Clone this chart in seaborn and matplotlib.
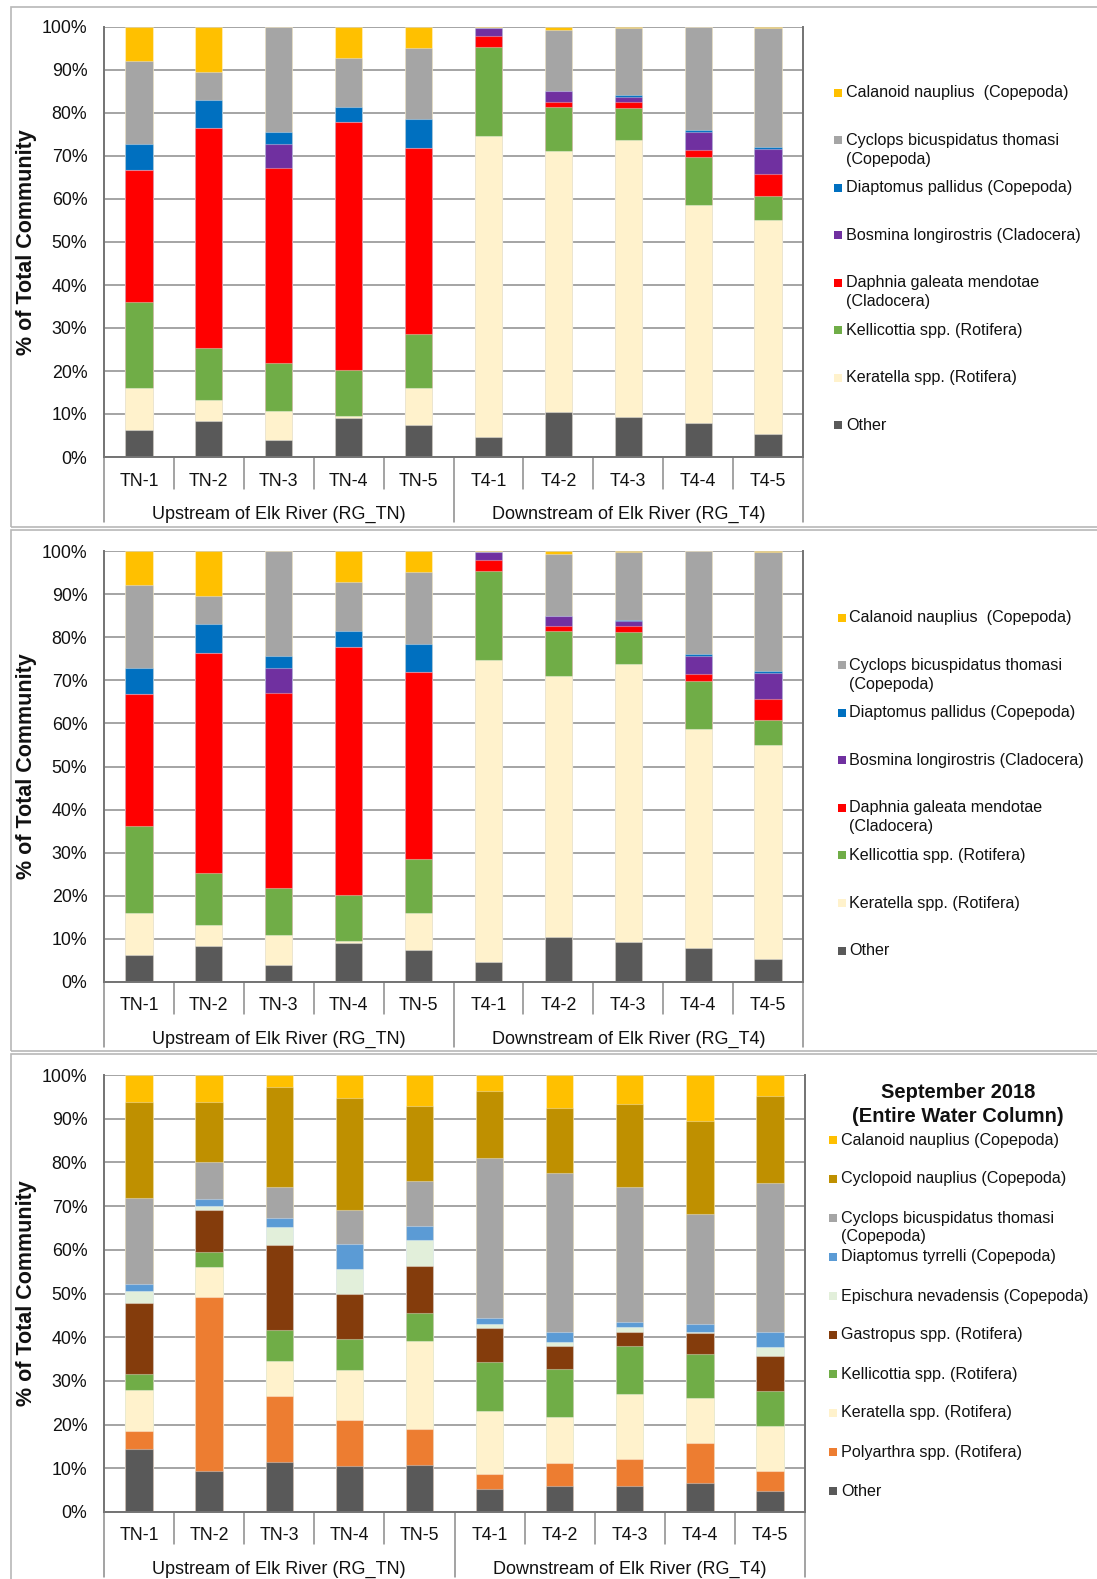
import numpy as np
import matplotlib
matplotlib.use("Agg")
import matplotlib.pyplot as plt
import seaborn as sns
from matplotlib.patches import Rectangle
from matplotlib.lines import Line2D
from matplotlib.transforms import blended_transform_factory

sns.set_style("white")
plt.rcParams["font.family"] = ["Liberation Sans", "DejaVu Sans"]

# ---------------------------------------------------------------- data
sites = ["TN-1", "TN-2", "TN-3", "TN-4", "TN-5",
         "T4-1", "T4-2", "T4-3", "T4-4", "T4-5"]
groups = ["Upstream of Elk River (RG_TN)", "Downstream of Elk River (RG_T4)"]
group_sizes = [5, 5]

# Composition (% of total community), stacked bottom -> top
other_a = [6.2, 8.3, 4.0, 9.0, 7.5, 4.6, 10.4, 9.3, 8.0, 5.4]
keratella_a = [9.8, 5.0, 6.8, 0.6, 8.5, 70.1, 60.7, 64.4, 50.7, 49.7]
kellicottia_a = [20.1, 12.0, 11.0, 10.6, 12.5, 20.6, 10.3, 7.4, 11.1, 5.7]
daphnia_a = [30.7, 51.1, 45.3, 57.6, 43.4, 2.5, 1.1, 1.4, 1.7, 4.9]
bosmina_a = [0.0, 0.0, 5.8, 0.0, 0.0, 2.0, 2.5, 1.2, 4.1, 6.0]
diaptomus_a = [6.0, 6.6, 2.7, 3.6, 6.6, 0.0, 0.0, 0.4, 0.4, 0.4]
cyclops_a = [19.3, 6.5, 24.4, 11.3, 16.7, 0.0, 14.4, 15.7, 24.0, 27.7]
calanoid_a = [7.9, 10.5, 0.0, 7.3, 4.8, 0.2, 0.6, 0.2, 0.0, 0.2]

# September 2018, entire water column
other_s = [14.4, 9.4, 11.5, 10.5, 10.8, 5.2, 5.9, 5.9, 6.6, 4.8]
polyarthra_s = [4.1, 39.9, 15.1, 10.6, 8.1, 3.5, 5.3, 6.3, 9.2, 4.6]
keratella_s = [9.4, 6.7, 8.0, 11.5, 20.3, 14.3, 10.6, 14.8, 10.2, 10.3]
kellicottia_s = [3.6, 3.5, 7.1, 7.0, 6.3, 11.3, 10.9, 10.9, 10.1, 8.0]
gastropus_s = [16.3, 9.5, 19.5, 10.4, 10.8, 7.7, 5.4, 3.3, 4.9, 8.0]
epischura_s = [2.7, 1.0, 4.0, 5.7, 6.0, 1.1, 0.8, 1.2, 0.3, 2.1]
diaptomus_s = [1.7, 1.7, 2.0, 5.6, 3.2, 1.4, 2.3, 1.0, 1.8, 3.4]
cyclops_s = [19.6, 8.4, 7.1, 7.7, 10.2, 36.5, 36.3, 30.9, 25.2, 34.2]
cyclopoid_s = [22.0, 13.7, 23.0, 25.8, 17.1, 15.3, 14.9, 19.1, 21.2, 19.8]
calanoid_s = [6.2, 6.2, 2.7, 5.2, 7.2, 3.7, 7.6, 6.6, 10.5, 4.8]

labels_a = ["Other", "Keratella spp. (Rotifera)", "Kellicottia spp. (Rotifera)",
            "Daphnia galeata mendotae\n(Cladocera)",
            "Bosmina longirostris (Cladocera)", "Diaptomus pallidus (Copepoda)",
            "Cyclops bicuspidatus thomasi\n(Copepoda)",
            "Calanoid nauplius  (Copepoda)"]
colors_a = ["#595959", "#FFF2CC", "#70AD47", "#FF0000",
            "#7030A0", "#0070C0", "#A5A5A5", "#FFC000"]

labels_s = ["Other", "Polyarthra spp. (Rotifera)", "Keratella spp. (Rotifera)",
            "Kellicottia spp. (Rotifera)", "Gastropus spp. (Rotifera)",
            "Epischura nevadensis (Copepoda)", "Diaptomus tyrrelli (Copepoda)",
            "Cyclops bicuspidatus thomasi\n(Copepoda)",
            "Cyclopoid nauplius (Copepoda)", "Calanoid nauplius (Copepoda)"]
colors_s = ["#595959", "#ED7D31", "#FFF2CC", "#70AD47", "#843C0C",
            "#E2EFDA", "#5B9BD5", "#A5A5A5", "#BF9000", "#FFC000"]

layers_a = [other_a, keratella_a, kellicottia_a, daphnia_a,
            bosmina_a, diaptomus_a, cyclops_a, calanoid_a]
layers_s = [other_s, polyarthra_s, keratella_s, kellicottia_s, gastropus_s,
            epischura_s, diaptomus_s, cyclops_s, cyclopoid_s, calanoid_s]

# ---------------------------------------------------------------- figure
W, H = 1097, 1579
fig = plt.figure(figsize=(W / 100, H / 100), dpi=100)

GRID = "#8c8c8c"
SPINE = "#737373"
SEP = "#8a8a8a"


def fx(px):
    return px / W


def fy(py):
    return 1 - py / H


def add_axes(top, bottom, left=104, right=803):
    return fig.add_axes([fx(left), fy(bottom), (right - left) / W, (bottom - top) / H])


def draw_panel(ax, layers, colors, ax_h_px):
    cum = np.cumsum(np.array(layers, dtype=float), axis=0)
    # draw the tallest cumulative bar first so each lower layer sits on top
    for i in range(len(layers) - 1, -1, -1):
        sns.barplot(x=sites, y=cum[i], color=colors[i], width=0.39,
                    saturation=1, errorbar=None, ax=ax,
                    edgecolor=(1, 1, 1, 0.35), linewidth=0.8, zorder=2)
    ax.set_xlim(-0.5, len(sites) - 0.5)
    ax.set_ylim(0, 100)
    ax.set_yticks(range(0, 101, 10))
    ax.set_yticklabels([f"{v}%" for v in range(0, 101, 10)])
    ax.yaxis.grid(True, color=GRID, lw=1.1)
    ax.xaxis.grid(False)
    ax.set_axisbelow(True)
    ax.tick_params(axis="y", length=3, width=1.0, color=SPINE, pad=9,
                   labelsize=12.8, labelcolor="#111111")
    ax.tick_params(axis="x", length=0, labelbottom=False)
    ax.set_xlabel("")
    ax.set_ylabel("")
    ax.spines["top"].set_visible(False)
    for s in ("left", "right", "bottom"):
        ax.spines[s].set_color(SPINE)
        ax.spines[s].set_linewidth(1.4)

    trans = blended_transform_factory(ax.transData, ax.transAxes)
    short = -32 / ax_h_px
    long_ = -65 / ax_h_px
    # category separators and labels
    for i, s in enumerate(sites):
        ax.text(i, -24 / ax_h_px, s, transform=trans, ha="center", va="center",
                fontsize=12.8, color="#111111")
    bounds = np.cumsum([0] + group_sizes) - 0.5
    for k in range(1, len(sites)):
        xk = k - 0.5
        if xk in bounds:
            continue
        ax.add_line(Line2D([xk, xk], [0, short], transform=trans, color=SEP,
                           lw=1.1, clip_on=False))
    for xb in bounds:
        ax.add_line(Line2D([xb, xb], [0, long_], transform=trans, color=SEP,
                           lw=1.1, clip_on=False))
    for g, name in enumerate(groups):
        xc = (bounds[g] + bounds[g + 1]) / 2
        ax.text(xc, -57 / ax_h_px, name, transform=trans, ha="center",
                va="center", fontsize=13, color="#111111")


def draw_legend(labels, colors, mx, tx, y0, step, msize=8):
    # entries are listed top -> bottom (reverse of stacking order)
    for j, (lab, col) in enumerate(zip(labels[::-1], colors[::-1])):
        y = y0 + j * step
        fig.add_artist(Rectangle((fx(mx), fy(y + msize / 2)), msize / W, msize / H,
                                 transform=fig.transFigure, facecolor=col,
                                 edgecolor="none"))
        for ln, line in enumerate(lab.split("\n")):
            fig.text(fx(tx), fy(y + ln * 19), line, ha="left", va="center",
                     fontsize=11.6, color="#111111")


def panel_box(top, bottom):
    fig.add_artist(Rectangle((fx(11), fy(bottom)), (1300 - 11) / W, (bottom - top) / H,
                             transform=fig.transFigure, fill=False,
                             edgecolor="#b8b8b8", lw=1.2))


# panel frames
panel_box(7, 527)
panel_box(530, 1051)
panel_box(1054, 1700)

# panel 1
ax1 = add_axes(27, 457)
draw_panel(ax1, layers_a, colors_a, 430)
draw_legend(labels_a, colors_a, 834, 846, 92.7, 47.5)

# panel 2
ax2 = add_axes(551, 982)
draw_panel(ax2, layers_a, colors_a, 431)
draw_legend(labels_a, colors_a, 838, 849, 617.5, 47.6)

# panel 3
ax3 = add_axes(1075, 1512, right=805)
draw_panel(ax3, layers_s, colors_s, 437)
draw_legend(labels_s, colors_s, 829, 841, 1140, 39.0)
fig.text(fx(958), fy(1093), "September 2018", ha="center", va="center",
         fontsize=14.5, fontweight="bold", color="#111111")
fig.text(fx(958), fy(1117), "(Entire Water Column)", ha="center", va="center",
         fontsize=14.5, fontweight="bold", color="#111111")

# y-axis titles
for top, bottom in ((27, 457), (551, 982), (1075, 1512)):
    fig.text(fx(27), fy((top + bottom) / 2), "% of Total Community", rotation=90,
             ha="center", va="center", fontsize=15.5, fontweight="bold",
             color="#111111")

fig.savefig("out.png", dpi=100)
